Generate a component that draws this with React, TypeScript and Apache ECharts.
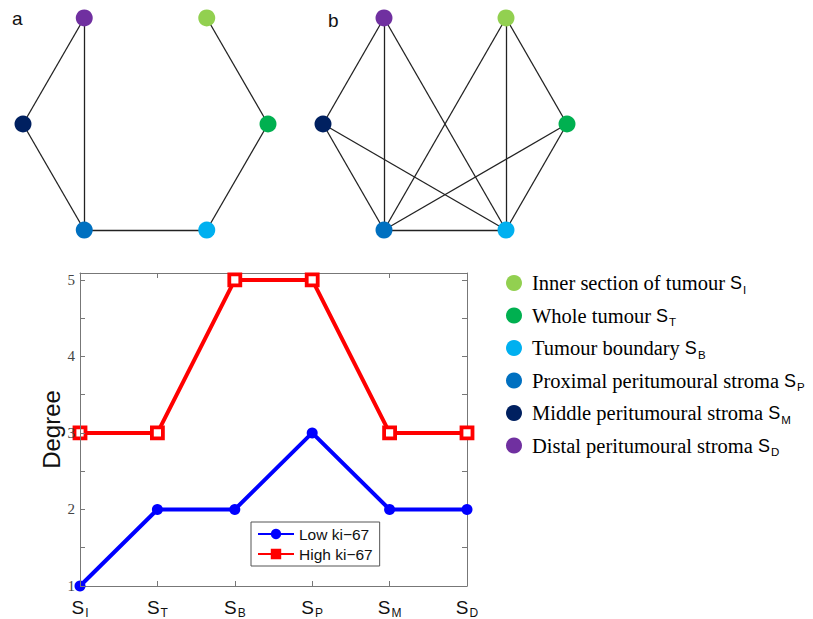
import React, { useEffect, useRef } from "react";
import * as echarts from "echarts";

// Sites (order along the x axis)
const siteCodes = ["I", "T", "B", "P", "M", "D"];
const siteNames = [
  "Inner section of tumour",
  "Whole tumour",
  "Tumour boundary",
  "Proximal peritumoural stroma",
  "Middle peritumoural stroma",
  "Distal peritumoural stroma",
];
const siteColors = ["#92d050", "#00b050", "#00b0f0", "#0070c0", "#002060", "#7030a0"];
// angle (deg) of each site on the hexagonal network layout
const siteAngles = [60, 0, -60, -120, 180, 120];

// Degree per site
const lowKi67 = [1, 2, 2, 3, 2, 2];
const highKi67 = [3, 3, 5, 5, 3, 3];
const seriesNames = ["Low ki\u221267", "High ki\u221267"];
const yTicks = [1, 2, 3, 4, 5];

// Network edges
const edgesA = [["D", "M"], ["D", "P"], ["M", "P"], ["P", "B"], ["B", "T"], ["T", "I"]];
const edgesB = [
  ["D", "M"], ["D", "P"], ["D", "B"], ["I", "P"], ["I", "B"], ["I", "T"],
  ["M", "P"], ["M", "B"], ["T", "P"], ["T", "B"], ["P", "B"],
];
const panelLabels = ["a", "b"];

const SERIF = "'Liberation Serif', 'Times New Roman', serif";
const SANS = "'Liberation Sans', Arial, sans-serif";

function nodes() {
  return siteCodes.map((c, i) => {
    const a = (siteAngles[i] * Math.PI) / 180;
    return {
      name: c,
      value: [Math.cos(a), Math.sin(a)],
      itemStyle: { color: siteColors[i] },
    };
  });
}

export default function App() {
  const ref = useRef<HTMLDivElement>(null);
  useEffect(() => {
    if (!ref.current) return;
    const chart = echarts.init(ref.current, null, { renderer: "svg" });

    const subRich = {
      s: { fontFamily: SANS, fontSize: 19, color: "#111" },
      sub: { fontFamily: SANS, fontSize: 12, color: "#111", padding: [12, 0, 0, 1] },
    };

    const hiddenX = (gi: number) => ({
      gridIndex: gi, type: "value", min: -1, max: 1, show: false,
    });
    const hiddenY = (gi: number) => ({
      gridIndex: gi, type: "value", min: -0.94, max: 0.94, show: false,
    });

    const legendGraphics: any[] = [];
    siteCodes.forEach((c, i) => {
      const y = 275 + i * 32.5;
      legendGraphics.push({
        type: "circle",
        shape: { cx: 506, cy: y, r: 8 },
        style: { fill: siteColors[i] },
      });
      legendGraphics.push({
        type: "text",
        x: 524,
        y: y,
        style: {
          text: `{n|${siteNames[i]}}{s|S}{sub|${c}}`,
          verticalAlign: "middle",
          rich: {
            n: { fontFamily: SERIF, fontSize: 20.5, color: "#111", padding: [0, 5, 0, 0] },
            s: { fontFamily: SANS, fontSize: 18, color: "#111" },
            sub: { fontFamily: SANS, fontSize: 11.5, color: "#111", padding: [13, 0, 0, 1] },
          },
        },
      });
    });

    const option: any = {
      animation: false,
      backgroundColor: "#ffffff",
      grid: [
        { left: 72, right: 346, top: 265, bottom: 33 },
        { left: 15, top: 0.9, width: 245, height: 230.2 },
        { left: 315, top: 0.9, width: 244, height: 230.2 },
      ],
      xAxis: [
        {
          gridIndex: 0,
          type: "category",
          data: siteCodes,
          boundaryGap: false,
          axisLine: { lineStyle: { color: "#777", width: 1 } },
          axisTick: { inside: true, length: 5, interval: 0, lineStyle: { color: "#777" } },
          axisLabel: {
            interval: 0,
            margin: 9,
            formatter: (v: string) => `{s|S}{sub|${v}}`,
            rich: subRich,
          },
          splitLine: { show: false },
        },
        {
          gridIndex: 0,
          type: "category",
          position: "top",
          data: siteCodes,
          boundaryGap: false,
          axisLine: { lineStyle: { color: "#777", width: 1 } },
          axisTick: { inside: true, length: 5, interval: 0, lineStyle: { color: "#777" } },
          axisLabel: { show: false },
          splitLine: { show: false },
        },
        hiddenX(1),
        hiddenX(2),
      ],
      yAxis: [
        {
          gridIndex: 0,
          type: "value",
          z: 5,
          min: 1,
          max: 5.09,
          interval: 0.5,
          name: "Degree",
          nameLocation: "middle",
          nameGap: 16,
          nameTextStyle: { fontFamily: SANS, fontSize: 24, color: "#111" },
          axisLine: { show: true, lineStyle: { color: "#777", width: 1 } },
          axisTick: { show: true, inside: true, length: 5, lineStyle: { color: "#777" } },
          axisLabel: {
            margin: 5,
            fontFamily: SERIF,
            fontSize: 15,
            color: "#444",
            formatter: (v: number) => (yTicks.indexOf(v) >= 0 ? String(v) : ""),
          },
          splitLine: { show: false },
        },
        {
          gridIndex: 0,
          type: "value",
          position: "right",
          min: 1,
          max: 5.09,
          interval: 0.5,
          axisLine: { show: true, lineStyle: { color: "#777", width: 1 } },
          axisTick: { show: true, inside: true, length: 5, lineStyle: { color: "#777" } },
          axisLabel: { show: false },
          splitLine: { show: false },
        },
        hiddenY(1),
        hiddenY(2),
      ],
      legend: {
        data: [
          { name: seriesNames[0], itemStyle: { color: "#0000ff", borderWidth: 0 } },
          { name: seriesNames[1], itemStyle: { color: "#ff0000", borderWidth: 0 } },
        ],
        left: 243,
        top: 514,
        orient: "vertical",
        borderColor: "#555",
        borderWidth: 1,
        padding: [4, 7, 4, 6],
        itemGap: 4,
        itemWidth: 36,
        itemHeight: 13,
        textStyle: { fontFamily: SANS, fontSize: 15.5, color: "#111" },
      },
      series: [
        {
          name: seriesNames[0],
          type: "line",
          xAxisIndex: 0,
          yAxisIndex: 0,
          data: lowKi67,
          symbol: "circle",
          symbolSize: 11,
          lineStyle: { color: "#0000ff", width: 4 },
          itemStyle: { color: "#0000ff" },
          z: 3,
        },
        {
          name: seriesNames[1],
          type: "line",
          xAxisIndex: 0,
          yAxisIndex: 0,
          data: highKi67,
          symbol: "rect",
          symbolSize: 11,
          lineStyle: { color: "#ff0000", width: 4 },
          itemStyle: { color: "#ffffff", borderColor: "#ff0000", borderWidth: 3.8 },
          z: 3,
        },
        {
          type: "graph",
          layout: "none",
          coordinateSystem: "cartesian2d",
          xAxisIndex: 2,
          yAxisIndex: 2,
          symbolSize: 17,
          data: nodes(),
          links: edgesA.map(([s, t]) => ({ source: s, target: t })),
          lineStyle: { color: "#222", width: 1.3, opacity: 1 },
          label: { show: false },
          z: 2,
        },
        {
          type: "graph",
          layout: "none",
          coordinateSystem: "cartesian2d",
          xAxisIndex: 3,
          yAxisIndex: 3,
          symbolSize: 17,
          data: nodes(),
          links: edgesB.map(([s, t]) => ({ source: s, target: t })),
          lineStyle: { color: "#222", width: 1.3, opacity: 1 },
          label: { show: false },
          z: 2,
        },
      ],
      graphic: [
        {
          type: "text",
          left: 4,
          top: 1,
          style: { text: panelLabels[0], fontFamily: SANS, fontSize: 19, fill: "#111" },
        },
        {
          type: "text",
          left: 320,
          top: 3,
          style: { text: panelLabels[1], fontFamily: SANS, fontSize: 19, fill: "#111" },
        },
        ...legendGraphics,
      ],
    };
    chart.setOption(option);
    return () => chart.dispose();
  }, []);
  return <div ref={ref} style={{ width: 805, height: 611 }} />;
}
